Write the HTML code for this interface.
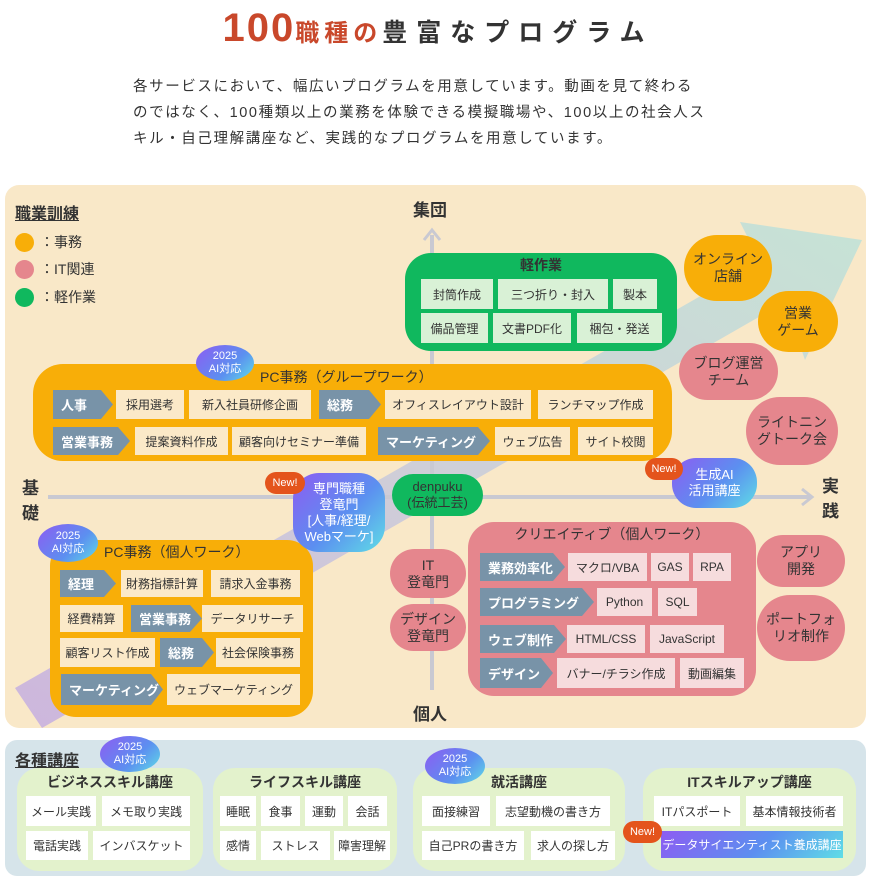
<!DOCTYPE html>
<html><head><meta charset="utf-8">
<style>
*{margin:0;padding:0;box-sizing:border-box}
body{width:876px;height:880px;background:#fff;position:relative;overflow:hidden;font-family:"Liberation Sans","Noto Sans CJK JP",sans-serif;color:#333}
.a{position:absolute}
.c{position:absolute;display:flex;align-items:center;justify-content:center;background:#fbe9c8;font-size:12px;color:#333;white-space:nowrap}
.t{position:absolute;display:flex;align-items:center;padding-left:8px;background:#7893a8;color:#fff;font-weight:bold;font-size:13px;white-space:nowrap;clip-path:polygon(0 0,calc(100% - 12px) 0,100% 50%,calc(100% - 12px) 100%,0 100%)}
.g{background:#d9f1d6}
.p{background:#f6dcdd}
.w{background:#fff}
.bub{position:absolute;display:flex;align-items:center;justify-content:center;text-align:center;border-radius:40px;font-size:14px;line-height:17px;color:#333}
.or{background:#f8ae08}.pk{background:#e5868d}.gr{background:#10b85e}
.grad{background:linear-gradient(135deg,#8d5cf2,#5c8ff0 55%,#5fdde6);color:#fff}
.new{position:absolute;background:#e4541c;color:#fff;font-size:11px;border-radius:12px;display:flex;align-items:center;justify-content:center}
.bd{position:absolute;border-radius:50%;font-size:11px;line-height:13px;color:#fff;display:flex;align-items:center;justify-content:center;text-align:center;background:linear-gradient(135deg,#8d5cf2,#5c8ff0 60%,#5fdde6)}
.box{position:absolute;border-radius:26px}
.ttl{position:absolute;font-size:14px;white-space:nowrap}
.lg{position:absolute;background:#e3f2cc;border-radius:22px}
.lt{position:absolute;font-size:14px;font-weight:bold;text-align:center;white-space:nowrap}
</style></head><body>

<div class="a" style="left:0;top:6px;width:876px;text-align:center;white-space:nowrap;font-weight:bold">
<span style="font-size:40px;color:#c9482b;letter-spacing:2px">100</span><span style="font-size:24px;color:#c9482b;letter-spacing:5px">職種の</span><span style="font-size:25px;color:#333;letter-spacing:9px">豊富なプログラム</span>
</div>
<div class="a" style="left:133px;top:74px;width:640px;font-size:14.5px;line-height:26px;letter-spacing:1.6px;color:#333;white-space:nowrap">各サービスにおいて、幅広いプログラムを用意しています。動画を見て終わる<br>のではなく、100種類以上の業務を体験できる模擬職場や、100以上の社会人ス<br>キル・自己理解講座など、実践的なプログラムを用意しています。</div>

<!-- main panel -->
<div class="a" style="left:5px;top:185px;width:861px;height:543px;background:#f9e8c8;border-radius:14px"></div>
<svg class="a" style="left:0;top:0" width="876" height="880">
<defs><linearGradient id="bg" x1="0" y1="1" x2="1" y2="0"><stop offset="0" stop-color="#cdb6dd"/><stop offset=".5" stop-color="#cfcfd8"/><stop offset="1" stop-color="#c6e3d6"/></linearGradient></defs>
<polygon points="15,688 760,262 740,222 862,240 805,360 785,302 42,728" fill="url(#bg)"/>
<line x1="432" y1="235" x2="432" y2="690" stroke="#c9c9d2" stroke-width="4"/>
<polyline points="424,240 432,230 440,240" fill="none" stroke="#c9c9d2" stroke-width="3"/>
<line x1="48" y1="497" x2="812" y2="497" stroke="#c9c9d2" stroke-width="4"/>
<polyline points="802,489 812,497 802,505" fill="none" stroke="#c9c9d2" stroke-width="3"/>
</svg>

<div class="a" style="left:15px;top:200px;font-size:16px;font-weight:bold;text-decoration:underline">職業訓練</div>
<div class="a or" style="left:15px;top:233px;width:19px;height:19px;border-radius:50%"></div>
<div class="a pk" style="left:15px;top:260px;width:19px;height:19px;border-radius:50%"></div>
<div class="a gr" style="left:15px;top:288px;width:19px;height:19px;border-radius:50%"></div>
<div class="a" style="left:40px;top:232px;font-size:14px">：事務</div>
<div class="a" style="left:40px;top:259px;font-size:14px">：IT関連</div>
<div class="a" style="left:40px;top:287px;font-size:14px">：軽作業</div>

<div class="a" style="left:413px;top:196px;font-size:17px;font-weight:bold">集団</div>
<div class="a" style="left:413px;top:700px;font-size:17px;font-weight:bold">個人</div>
<div class="a" style="left:22px;top:476px;font-size:17px;font-weight:bold;line-height:25px">基<br>礎</div>
<div class="a" style="left:822px;top:474px;font-size:17px;font-weight:bold;line-height:25px">実<br>践</div>

<!-- green -->
<div class="box gr" style="left:405px;top:253px;width:272px;height:98px"></div>
<div class="ttl" style="left:405px;top:255px;width:272px;text-align:center;font-weight:bold">軽作業</div>
<div class="c g" style="left:421px;top:279px;width:72px;height:30px">封筒作成</div>
<div class="c g" style="left:498px;top:279px;width:110px;height:30px">三つ折り・封入</div>
<div class="c g" style="left:613px;top:279px;width:44px;height:30px">製本</div>
<div class="c g" style="left:421px;top:313px;width:67px;height:30px">備品管理</div>
<div class="c g" style="left:493px;top:313px;width:78px;height:30px">文書PDF化</div>
<div class="c g" style="left:577px;top:313px;width:85px;height:30px">梱包・発送</div>

<!-- PC group -->
<div class="box or" style="left:33px;top:364px;width:639px;height:97px;border-radius:30px"></div>
<div class="ttl" style="left:260px;top:367px">PC事務（グループワーク）</div>
<div class="t" style="left:53px;top:390px;width:60px;height:29px">人事</div>
<div class="c" style="left:116px;top:390px;width:68px;height:29px">採用選考</div>
<div class="c" style="left:189px;top:390px;width:122px;height:29px">新入社員研修企画</div>
<div class="t" style="left:319px;top:390px;width:62px;height:29px">総務</div>
<div class="c" style="left:385px;top:390px;width:146px;height:29px">オフィスレイアウト設計</div>
<div class="c" style="left:538px;top:390px;width:115px;height:29px">ランチマップ作成</div>
<div class="t" style="left:53px;top:427px;width:77px;height:28px">営業事務</div>
<div class="c" style="left:135px;top:427px;width:93px;height:28px">提案資料作成</div>
<div class="c" style="left:232px;top:427px;width:134px;height:28px">顧客向けセミナー準備</div>
<div class="t" style="left:378px;top:427px;width:112px;height:28px">マーケティング</div>
<div class="c" style="left:495px;top:427px;width:75px;height:28px">ウェブ広告</div>
<div class="c" style="left:578px;top:427px;width:75px;height:28px">サイト校閲</div>
<div class="bd" style="left:196px;top:345px;width:58px;height:36px">2025<br>AI対応</div>

<!-- PC individual -->
<div class="box or" style="left:50px;top:540px;width:263px;height:177px"></div>
<div class="ttl" style="left:104px;top:542px">PC事務（個人ワーク）</div>
<div class="bd" style="left:38px;top:524px;width:60px;height:38px">2025<br>AI対応</div>
<div class="t" style="left:60px;top:570px;width:56px;height:27px">経理</div>
<div class="c" style="left:121px;top:570px;width:82px;height:27px">財務指標計算</div>
<div class="c" style="left:211px;top:570px;width:89px;height:27px">請求入金事務</div>
<div class="c" style="left:60px;top:605px;width:63px;height:27px">経費精算</div>
<div class="t" style="left:131px;top:605px;width:71px;height:27px">営業事務</div>
<div class="c" style="left:202px;top:605px;width:101px;height:27px">データリサーチ</div>
<div class="c" style="left:60px;top:638px;width:95px;height:29px">顧客リスト作成</div>
<div class="t" style="left:160px;top:638px;width:54px;height:29px">総務</div>
<div class="c" style="left:216px;top:638px;width:84px;height:29px">社会保険事務</div>
<div class="t" style="left:61px;top:674px;width:102px;height:31px">マーケティング</div>
<div class="c" style="left:167px;top:674px;width:133px;height:31px">ウェブマーケティング</div>

<!-- center bubbles -->
<div class="bub grad" style="left:293px;top:473px;width:92px;height:79px;border-radius:26px;font-size:13px;line-height:16px">専門職種<br>登竜門<br>[人事/経理/<br>Webマーケ]</div>
<div class="new" style="left:265px;top:472px;width:40px;height:22px">New!</div>
<div class="bub gr" style="left:392px;top:474px;width:91px;height:42px;border-radius:22px;font-size:13px;line-height:16px">denpuku<br>(伝統工芸)</div>
<div class="bub pk" style="left:390px;top:549px;width:76px;height:49px">IT<br>登竜門</div>
<div class="bub pk" style="left:390px;top:604px;width:76px;height:47px">デザイン<br>登竜門</div>

<!-- creative -->
<div class="box pk" style="left:468px;top:522px;width:288px;height:174px"></div>
<div class="ttl" style="left:468px;top:524px;width:288px;text-align:center">クリエイティブ（個人ワーク）</div>
<div class="t" style="left:480px;top:553px;width:85px;height:28px">業務効率化</div>
<div class="c p" style="left:568px;top:553px;width:79px;height:28px">マクロ/VBA</div>
<div class="c p" style="left:651px;top:553px;width:38px;height:28px">GAS</div>
<div class="c p" style="left:693px;top:553px;width:38px;height:28px">RPA</div>
<div class="t" style="left:480px;top:588px;width:114px;height:28px">プログラミング</div>
<div class="c p" style="left:597px;top:588px;width:55px;height:28px">Python</div>
<div class="c p" style="left:658px;top:588px;width:39px;height:28px">SQL</div>
<div class="t" style="left:480px;top:625px;width:86px;height:28px">ウェブ制作</div>
<div class="c p" style="left:567px;top:625px;width:78px;height:28px">HTML/CSS</div>
<div class="c p" style="left:650px;top:625px;width:74px;height:28px">JavaScript</div>
<div class="t" style="left:480px;top:658px;width:73px;height:30px">デザイン</div>
<div class="c p" style="left:557px;top:658px;width:118px;height:30px">バナー/チラシ作成</div>
<div class="c p" style="left:680px;top:658px;width:64px;height:30px">動画編集</div>

<!-- right bubbles -->
<div class="bub or" style="left:684px;top:235px;width:88px;height:66px">オンライン<br>店舗</div>
<div class="bub or" style="left:758px;top:291px;width:80px;height:61px">営業<br>ゲーム</div>
<div class="bub pk" style="left:679px;top:343px;width:99px;height:57px">ブログ運営<br>チーム</div>
<div class="bub pk" style="left:746px;top:397px;width:92px;height:68px">ライトニン<br>グトーク会</div>
<div class="bub grad" style="left:672px;top:458px;width:85px;height:50px;border-radius:24px;font-size:13px;line-height:16px">生成AI<br>活用講座</div>
<div class="new" style="left:645px;top:458px;width:38px;height:22px">New!</div>
<div class="bub pk" style="left:757px;top:535px;width:88px;height:52px">アプリ<br>開発</div>
<div class="bub pk" style="left:757px;top:595px;width:88px;height:66px">ポートフォ<br>リオ制作</div>

<!-- bottom panel -->
<div class="a" style="left:5px;top:740px;width:861px;height:136px;background:#d6e4ea;border-radius:12px"></div>
<div class="a" style="left:15px;top:747px;font-size:16px;font-weight:bold;text-decoration:underline">各種講座</div>

<div class="lg" style="left:17px;top:768px;width:186px;height:103px"></div>
<div class="lt" style="left:17px;top:772px;width:186px">ビジネススキル講座</div>
<div class="c w" style="left:26px;top:796px;width:70px;height:30px">メール実践</div>
<div class="c w" style="left:102px;top:796px;width:88px;height:30px">メモ取り実践</div>
<div class="c w" style="left:26px;top:831px;width:62px;height:29px">電話実践</div>
<div class="c w" style="left:93px;top:831px;width:97px;height:29px">インバスケット</div>
<div class="bd" style="left:100px;top:736px;width:60px;height:36px">2025<br>AI対応</div>

<div class="lg" style="left:213px;top:768px;width:184px;height:103px"></div>
<div class="lt" style="left:213px;top:772px;width:184px">ライフスキル講座</div>
<div class="c w" style="left:220px;top:796px;width:36px;height:30px">睡眠</div>
<div class="c w" style="left:261px;top:796px;width:39px;height:30px">食事</div>
<div class="c w" style="left:305px;top:796px;width:38px;height:30px">運動</div>
<div class="c w" style="left:348px;top:796px;width:39px;height:30px">会話</div>
<div class="c w" style="left:220px;top:831px;width:36px;height:29px">感情</div>
<div class="c w" style="left:261px;top:831px;width:69px;height:29px">ストレス</div>
<div class="c w" style="left:334px;top:831px;width:56px;height:29px">障害理解</div>

<div class="lg" style="left:413px;top:768px;width:212px;height:103px"></div>
<div class="lt" style="left:413px;top:772px;width:212px">就活講座</div>
<div class="c w" style="left:422px;top:796px;width:68px;height:30px">面接練習</div>
<div class="c w" style="left:496px;top:796px;width:114px;height:30px">志望動機の書き方</div>
<div class="c w" style="left:422px;top:831px;width:102px;height:29px">自己PRの書き方</div>
<div class="c w" style="left:531px;top:831px;width:84px;height:29px">求人の探し方</div>
<div class="bd" style="left:425px;top:748px;width:60px;height:36px">2025<br>AI対応</div>

<div class="lg" style="left:643px;top:768px;width:213px;height:103px"></div>
<div class="lt" style="left:643px;top:772px;width:213px">ITスキルアップ講座</div>
<div class="c w" style="left:654px;top:796px;width:86px;height:30px">ITパスポート</div>
<div class="c w" style="left:746px;top:796px;width:97px;height:30px">基本情報技術者</div>
<div class="c grad" style="left:661px;top:831px;width:182px;height:27px">データサイエンティスト養成講座</div>
<div class="new" style="left:623px;top:821px;width:39px;height:22px">New!</div>
</body></html>
